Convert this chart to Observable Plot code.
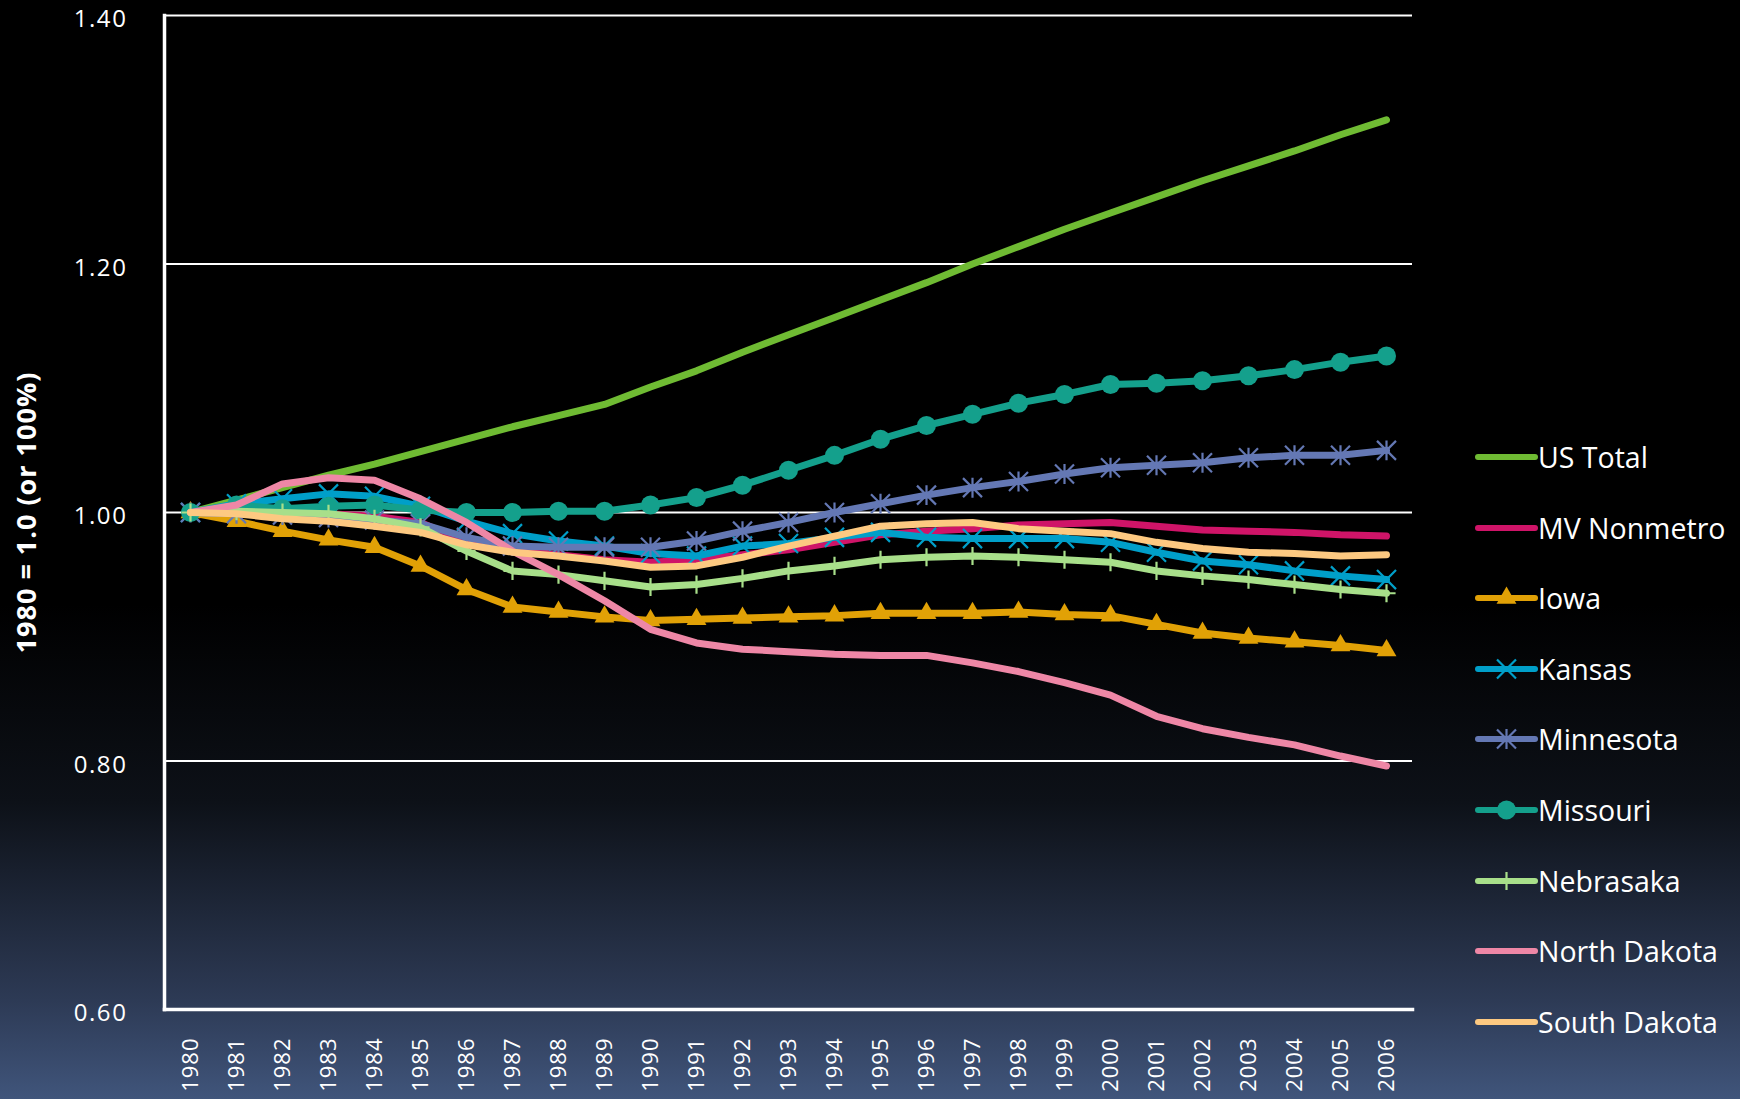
<!DOCTYPE html>
<html><head><meta charset="utf-8">
<script src="https://cdn.jsdelivr.net/npm/d3@7"></script>
<script src="https://cdn.jsdelivr.net/npm/@observablehq/plot@0.6"></script>
<style>
html,body{margin:0;padding:0;}
body{width:1740px;height:1099px;overflow:hidden;position:relative;
  background:linear-gradient(to bottom,#000 0%,#000 55%,#0d1118 73%,#2d3a55 91%,#40557b 100%);
  font-family:"Open Sans",sans-serif;color:#fff;}
#chart{position:absolute;left:0;top:0;}
#legend{position:absolute;left:0;top:0;}
#chart g[aria-label="y-axis tick label"]{letter-spacing:1.6px;}
#chart g[aria-label="x-axis tick label"]{letter-spacing:1px;}
#chart g[aria-label="text"]{letter-spacing:1px;}
.item{position:absolute;left:1474px;display:flex;align-items:center;height:40px;white-space:nowrap;}
.item span{font-size:28.5px;line-height:40px;}
.item svg{display:block;}
</style></head><body>
<div id="chart"></div><div id="legend"></div>
<script>
const years = [1980,1981,1982,1983,1984,1985,1986,1987,1988,1989,1990,1991,1992,1993,1994,1995,1996,1997,1998,1999,2000,2001,2002,2003,2004,2005,2006];
const yTicks = [0.6,0.8,1.0,1.2,1.4];
const yLabel = "1980 = 1.0 (or 100%)";

const seriesNames = ["US Total","MV Nonmetro","Iowa","Kansas","Minnesota","Missouri","Nebrasaka","North Dakota","South Dakota"];
const seriesColors = ["#6fbb33","#cf1468","#e1a106","#009fc9","#6478b4","#14a08c","#a8df8a","#ee87a6","#fdc981"];
const seriesMarkers = ["none","none","triangle","times","star","circle","plus","none","none"];

const usTotal     = [1.000,1.010,1.020,1.030,1.039,1.049,1.059,1.069,1.078,1.087,1.101,1.114,1.129,1.143,1.157,1.171,1.185,1.200,1.214,1.228,1.241,1.254,1.267,1.279,1.291,1.304,1.316];
const mvNonmetro  = [1.000,0.999,0.999,0.999,0.997,0.992,0.976,0.970,0.966,0.962,0.960,0.962,0.966,0.970,0.976,0.982,0.985,0.987,0.990,0.991,0.992,0.989,0.986,0.985,0.984,0.982,0.981];
const iowa        = [1.000,0.993,0.985,0.978,0.972,0.957,0.938,0.924,0.920,0.916,0.913,0.914,0.915,0.916,0.917,0.919,0.919,0.919,0.920,0.918,0.917,0.910,0.903,0.899,0.896,0.893,0.889];
const kansas      = [1.000,1.007,1.011,1.015,1.013,1.005,0.993,0.983,0.977,0.973,0.967,0.965,0.973,0.975,0.980,0.984,0.980,0.979,0.979,0.979,0.976,0.968,0.961,0.958,0.953,0.949,0.946];
const minnesota   = [1.000,0.999,0.998,0.996,0.994,0.991,0.980,0.973,0.972,0.972,0.972,0.977,0.985,0.992,1.000,1.007,1.014,1.020,1.025,1.031,1.036,1.038,1.040,1.044,1.046,1.046,1.050];
const missouri    = [1.000,1.006,1.003,1.005,1.006,1.002,1.000,1.000,1.001,1.001,1.006,1.012,1.022,1.034,1.046,1.059,1.070,1.079,1.088,1.095,1.103,1.104,1.106,1.110,1.115,1.121,1.126];
const nebrasaka   = [1.000,1.001,1.000,0.999,0.995,0.988,0.969,0.953,0.950,0.945,0.940,0.942,0.947,0.953,0.957,0.962,0.964,0.965,0.964,0.962,0.960,0.953,0.949,0.946,0.942,0.938,0.935];
const northDakota = [1.000,1.006,1.023,1.028,1.026,1.011,0.992,0.969,0.950,0.929,0.906,0.895,0.890,0.888,0.886,0.885,0.885,0.879,0.872,0.863,0.853,0.836,0.826,0.819,0.813,0.804,0.796];
const southDakota = [1.000,0.999,0.995,0.993,0.989,0.984,0.974,0.968,0.965,0.961,0.956,0.957,0.964,0.973,0.981,0.989,0.991,0.992,0.987,0.985,0.983,0.976,0.971,0.968,0.967,0.965,0.966];

const seriesValues = [usTotal,mvNonmetro,iowa,kansas,minnesota,missouri,nebrasaka,northDakota,southDakota];

// Excel-style star marker (X plus vertical bar)
const excelStar = {draw(ctx, size){const r=Math.sqrt(size/Math.PI);
  ctx.moveTo(-r,-r);ctx.lineTo(r,r);ctx.moveTo(-r,r);ctx.lineTo(r,-r);ctx.moveTo(0,-r*1.05);ctx.lineTo(0,r*1.05);}};
const markerSpec = {
  triangle:{symbol:"triangle", r:7.4, filled:true},
  times:{symbol:"times", r:8.7, filled:false},
  star:{symbol:excelStar, r:9.5, filled:false},
  circle:{symbol:"circle", r:9.5, filled:true},
  plus:{symbol:"plus", r:5.9, filled:false}
};

const marks = [
  Plot.gridY(yTicks.slice(1), {stroke:"#fff", strokeOpacity:1, strokeWidth:2}),
  Plot.frame({anchor:"bottom", stroke:"#fff", strokeWidth:3.5}),
  Plot.frame({anchor:"left", stroke:"#fff", strokeWidth:3.5}),
  Plot.axisY(yTicks, {tickSize:0, tickPadding:37, tickFormat:d=>d.toFixed(2), fontSize:24, dy:4, fill:"#fff", label:null}),
  Plot.axisX(years, {tickSize:0, tickRotate:-90, tickPadding:28, tickFormat:d=>String(d), fontSize:22, fill:"#fff", label:null}),
  Plot.text([yLabel], {frameAnchor:"left", textAnchor:"middle", rotate:-90, dx:-137, fontSize:27, fontWeight:"bold", fill:"#fff", text:d=>d})
];

seriesNames.forEach((name, s) => {
  const data = years.map((year, i) => ({year, value: seriesValues[s][i], series: name}));
  marks.push(Plot.line(data, {x:"year", y:"value", stroke:seriesColors[s], strokeWidth:7, strokeLinejoin:"round", strokeLinecap:"round"}));
  const m = markerSpec[seriesMarkers[s]];
  if (m) {
    marks.push(Plot.dot(data, {x:"year", y:"value", symbol:m.symbol, r:m.r,
      fill: m.filled ? seriesColors[s] : "none",
      stroke: m.filled ? "none" : seriesColors[s],
      strokeWidth: m.filled ? 0 : 2.2}));
  }
});

const chart = Plot.plot({
  width: 1440, height: 1099,
  marginLeft: 164, marginRight: 28, marginTop: 15, marginBottom: 90,
  x: {type:"point", domain: years, padding: 0.5},
  y: {domain: [0.6, 1.4]},
  style: {background:"transparent", color:"#fff", fontFamily:"'Open Sans', sans-serif", overflow:"visible"},
  marks
});
document.getElementById("chart").append(chart);

// Legend
const legend = d3.select("#legend");
seriesNames.forEach((name, s) => {
  const item = legend.append("div").attr("class","item").style("top", (437 + 70.6*s) + "px");
  const svg = item.append("svg").attr("width",64).attr("height",40);
  svg.append("line").attr("x1",4).attr("x2",61).attr("y1",20).attr("y2",20)
    .attr("stroke",seriesColors[s]).attr("stroke-width",6).attr("stroke-linecap","round");
  const m = markerSpec[seriesMarkers[s]];
  if (m) {
    const sym = typeof m.symbol === "string"
      ? {triangle:d3.symbolTriangle, times:d3.symbolTimes, circle:d3.symbolCircle, plus:d3.symbolPlus}[m.symbol]
      : m.symbol;
    svg.append("path").attr("transform","translate(32.5,20)")
      .attr("d", d3.symbol(sym, Math.PI*m.r*m.r)())
      .attr("fill", m.filled ? seriesColors[s] : "none")
      .attr("stroke", m.filled ? "none" : seriesColors[s])
      .attr("stroke-width", m.filled ? 0 : 2.2);
  }
  item.append("span").text(name);
});
</script>
</body></html>
